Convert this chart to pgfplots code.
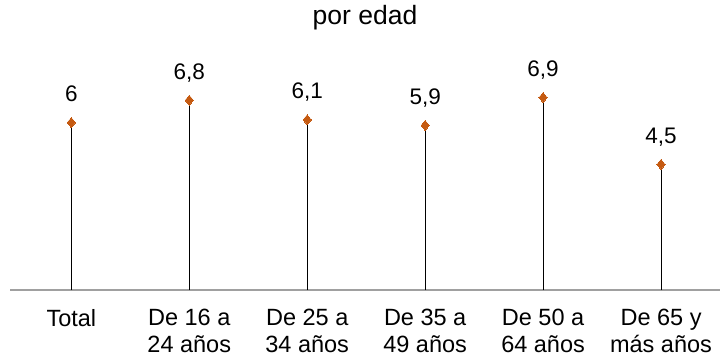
\documentclass[border=0pt]{standalone}
\usepackage{pgfplots}
\pgfplotsset{compat=1.18}
\usepackage{fontspec}
\setmainfont{Liberation Sans}
\usetikzlibrary{calc}
\definecolor{markc}{RGB}{197,90,17}
\definecolor{axisc}{RGB}{160,160,160}
\begin{document}
\begin{tikzpicture}
\begin{axis}[
  scale only axis,
  width=710bp, height=279bp,
  xmin=-0.52, xmax=5.5,
  ymin=0, ymax=10,
  axis x line=bottom,
  axis y line=none,
  x axis line style={-, draw=axisc, line width=1.3bp},
  xtick=data,
  major tick length=0pt,
  xticklabels={Total,{De 16 a\\24 años},{De 25 a\\34 años},{De 35 a\\49 años},{De 50 a\\64 años},{De 65 y\\más años}},
  xticklabel style={align=center, anchor=north, inner sep=0pt, yshift=-19bp,
    font=\fontsize{23.5bp}{27bp}\selectfont},
  title={por edad},
  title style={at={(0.5,1)}, anchor=north, inner sep=0pt, yshift=0bp,
    font=\fontsize{26.5bp}{30bp}\selectfont},
  /pgf/number format/.cd, use comma, assume math mode=true,
  /pgfplots/.cd,
  clip=false,
  nodes near coords,
  nodes near coords style={anchor=base, inner sep=0pt, yshift=21bp,
    font=\fontsize{22.5bp}{26bp}\selectfont, text=black},
]
\addplot[ycomb, black, line width=0.9bp,
  mark=diamond*, mark size=5bp,
  mark options={draw=markc, fill=markc, line width=0pt, xscale=1.1}]
  coordinates {(0,6) (1,6.8) (2,6.1) (3,5.9) (4,6.9) (5,4.5)};
\coordinate (bl) at (rel axis cs:0,0);
\coordinate (tr) at (rel axis cs:1,1);
\end{axis}
\pgfresetboundingbox
\path ($(bl)+(-10bp,-66bp)$) rectangle ($(tr)+(0,11bp)$);
\end{tikzpicture}
\end{document}
